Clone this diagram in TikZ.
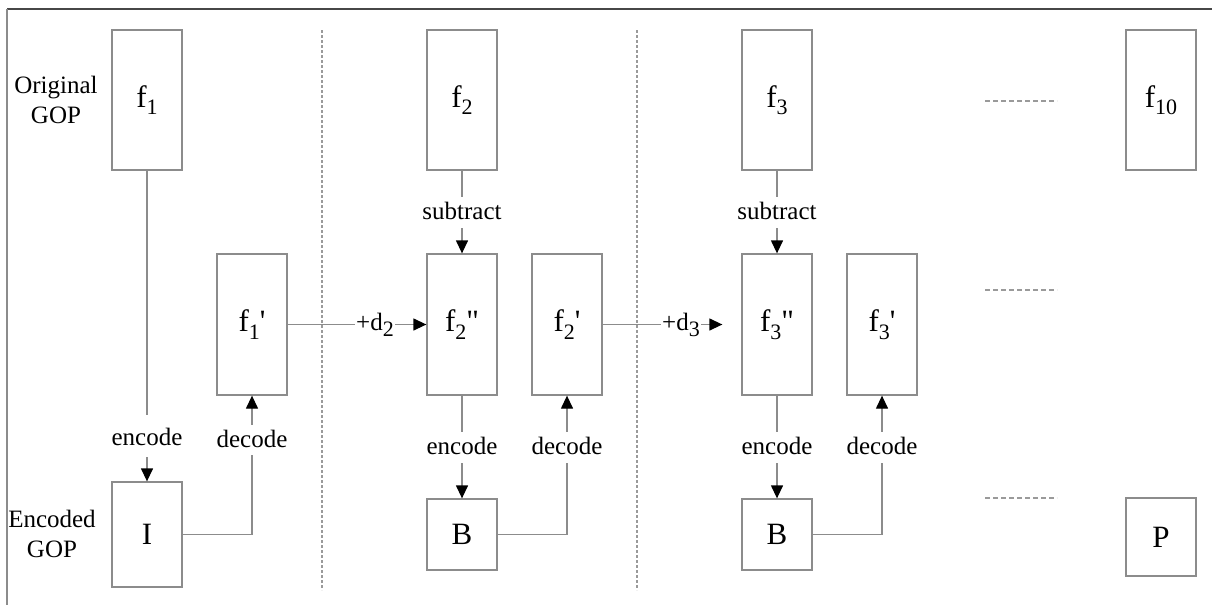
\documentclass[tikz,border=0pt]{standalone}
\usepackage{fontspec}
\newfontfamily\figfont{Liberation Serif}
\usetikzlibrary{arrows.meta}
\definecolor{boxgray}{HTML}{8C8C8C}
\definecolor{linegray}{HTML}{8C8C8C}
\definecolor{sepgray}{HTML}{9A9A9A}
\definecolor{framedark}{HTML}{474747}
% lowered, smaller index digits after a frame letter
\newcommand\fsub[1]{\raisebox{-0.24em}{\fontsize{22}{22}\selectfont #1}}

\begin{document}
\begin{tikzpicture}[x=1pt,y=-1pt,
  font=\figfont\fontsize{25}{30}\selectfont,
  frame/.style={draw=boxgray, line width=1.3pt, minimum width=70pt, inner sep=0pt,
                font=\figfont\fontsize{31}{33}\selectfont},
  tag/.style={inner xsep=1pt, inner ysep=0pt, text height=17pt, text depth=5pt},
  link/.style={draw=linegray, line width=1.3pt},
  arr/.style={link, -{Triangle[length=13pt,width=12pt,color=black]}},
  sep/.style={draw=sepgray, line width=1.2pt, dash pattern=on 3pt off 2pt},
  more/.style={draw=sepgray, line width=1.2pt, dash pattern=on 5pt off 3pt},
]
\useasboundingbox (0,0) rectangle (1212,605);

% outer rules
\draw[framedark, line width=2pt] (7,9) -- (1212,9);
\draw[linegray, line width=1.4pt] (7,9) -- (7,605);

% row captions
\node[align=center] (orig) at (56,100) {Original\\GOP};
\node[align=center] (encg) at (52,534) {Encoded\\GOP};

% column separators
\draw[sep] (322,30) -- (322,590);
\draw[sep] (637,30) -- (637,590);

% frames of the first column
\node[frame, minimum height=140pt] (f1)  at (147,100)   {f\fsub{1}};
\node[frame, minimum height=141pt] (f1p) at (252,324.5) {f\fsub{1}'};
\node[frame, minimum height=105pt] (I)   at (147,534.5) {I};

% frames of the second column
\node[frame, minimum height=140pt] (f2)  at (462,100)   {f\fsub{2}};
\node[frame, minimum height=141pt] (f2pp) at (462,324.5) {f\fsub{2}"};
\node[frame, minimum height=141pt] (f2p) at (567,324.5) {f\fsub{2}'};
\node[frame, minimum height=71pt]  (B2)  at (462,534.5) {B};

% frames of the third column
\node[frame, minimum height=140pt] (f3)  at (777,100)   {f\fsub{3}};
\node[frame, minimum height=141pt] (f3pp) at (777,324.5) {f\fsub{3}"};
\node[frame, minimum height=141pt] (f3p) at (882,324.5) {f\fsub{3}'};
\node[frame, minimum height=71pt]  (B3)  at (777,534.5) {B};

% last frames of the group
\node[frame, minimum height=140pt] (f10) at (1161,100) {f\fsub{10}};
\node[frame, minimum height=78pt]  (P)   at (1161,537) {P};

% continuation marks
\draw[more] (985,101) -- (1057,101);
\draw[more] (985,290) -- (1057,290);
\draw[more] (985,498) -- (1057,498);

% operation labels
\node[tag] (enc1) at (147,439) {encode};
\node[tag] (dec1) at (252,441) {decode};
\node[tag] (d2)   at (375,324.5) {+d\fsub{2}};
\node[tag] (sub2) at (462,213) {subtract};
\node[tag] (enc2) at (462,448) {encode};
\node[tag] (dec2) at (567,448) {decode};
\node[tag] (d3)   at (681,324.5) {+d\fsub{3}};
\node[tag] (sub3) at (777,213) {subtract};
\node[tag] (enc3) at (777,448) {encode};
\node[tag] (dec3) at (882,448) {decode};

% first column connectors
\draw[link, shorten >=13pt] (f1) -- (enc1);
\draw[arr, shorten <=7pt] (enc1) -- (I);
\draw[link, shorten >=3pt] (I) -| (dec1);
\draw[arr, shorten <=5pt] (dec1) -- (f1p);
\draw[link] (f1p) -- (d2);
\draw[arr] (d2) -- (f2pp);

% second column connectors
\draw[link, shorten >=5pt] (f2) -- (sub2);
\draw[arr, shorten <=4pt] (sub2) -- (f2pp);
\draw[link, shorten >=5pt] (f2pp) -- (enc2);
\draw[arr, shorten <=4pt] (enc2) -- (B2);
\draw[link, shorten >=4pt] (B2) -| (dec2);
\draw[arr, shorten <=5pt] (dec2) -- (f2p);
\draw[link] (f2p) -- (d3);
\draw[arr, shorten >=19pt] (d3) -- (f3pp);

% third column connectors
\draw[link, shorten >=5pt] (f3) -- (sub3);
\draw[arr, shorten <=4pt] (sub3) -- (f3pp);
\draw[link, shorten >=5pt] (f3pp) -- (enc3);
\draw[arr, shorten <=4pt] (enc3) -- (B3);
\draw[link, shorten >=4pt] (B3) -| (dec3);
\draw[arr, shorten <=5pt] (dec3) -- (f3p);
\end{tikzpicture}
\end{document}
